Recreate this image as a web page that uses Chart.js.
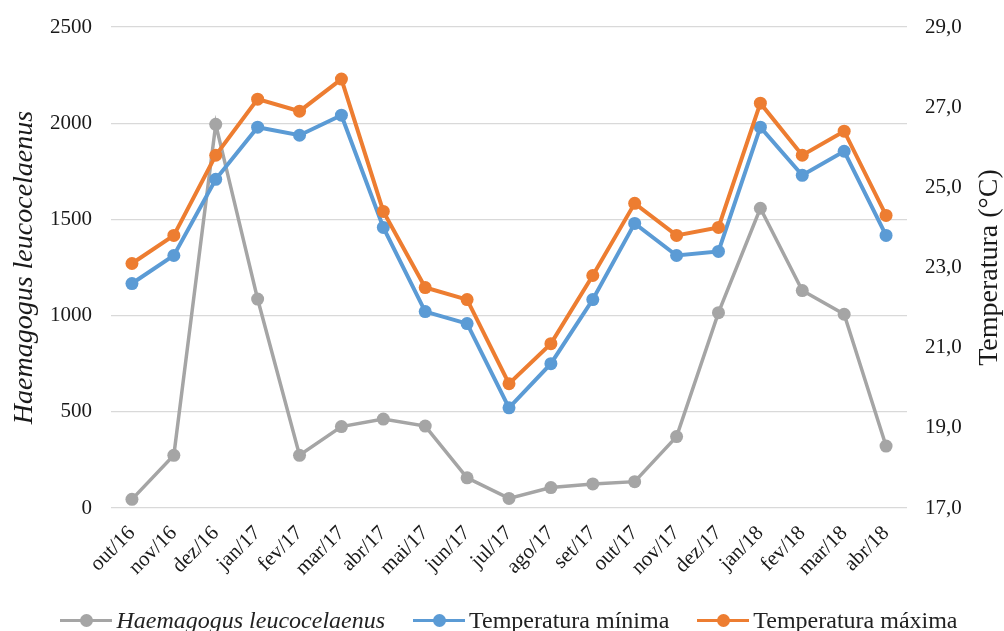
<!DOCTYPE html>
<html>
<head>
<meta charset="utf-8">
<script src="https://cdn.jsdelivr.net/npm/chart.js@4.4.1/dist/chart.umd.min.js"></script>
<style>
  html, body { margin: 0; padding: 0; background: #fff; }
  #wrap { position: relative; width: 1004px; height: 631px; overflow: hidden; }
  #legend {
    position: absolute; left: 0; top: 606px; width: 1004px; padding-left: 14px;
    box-sizing: border-box; display: flex; justify-content: center; align-items: center;
    font-family: 'Liberation Serif', 'Times New Roman', serif; font-size: 24px;
    color: #222; line-height: 28px; white-space: nowrap;
  }
  .item { display: flex; align-items: center; margin: 0 14px; }
  .mark { position: relative; width: 52px; height: 13px; margin-right: 4px; }
  .mark .ln { position: absolute; left: 0; right: 0; top: 5px; height: 3px; }
  .mark .dt { position: absolute; left: 19.5px; top: 0; width: 13px; height: 13px; border-radius: 50%; }
</style>
</head>
<body>
<div id="wrap">
  <canvas id="myChart" width="1004" height="631"></canvas>
  <div id="legend"></div>
</div>
<script>
// data
const months = ['out/16', 'nov/16', 'dez/16', 'jan/17', 'fev/17', 'mar/17', 'abr/17', 'mai/17', 'jun/17',
  'jul/17', 'ago/17', 'set/17', 'out/17', 'nov/17', 'dez/17', 'jan/18', 'fev/18', 'mar/18', 'abr/18'];
const haemagogus = [45, 274, 1994, 1086, 274, 423, 462, 426, 157, 50, 106, 125, 137, 371, 1015, 1558, 1130, 1007, 322];
const tempMin = [22.6, 23.3, 25.2, 26.5, 26.3, 26.8, 24.0, 21.9, 21.6, 19.5, 20.6, 22.2, 24.1, 23.3, 23.4, 26.5, 25.3, 25.9, 23.8];
const tempMax = [23.1, 23.8, 25.8, 27.2, 26.9, 27.7, 24.4, 22.5, 22.2, 20.1, 21.1, 22.8, 24.6, 23.8, 24.0, 27.1, 25.8, 26.4, 24.3];
const countTicks = [0, 500, 1000, 1500, 2000, 2500];
const tempTicks = [17, 19, 21, 23, 25, 27, 29];

const FONT = "'Liberation Serif', 'Times New Roman', serif";
const TEXT = '#1a1a1a';

const rightTitle = {
  id: 'rightTitle',
  afterDraw(chart, args, opts) {
    const s = chart.scales.y1
    const ca = chart.chartArea
    const ctx = chart.ctx
    ctx.save()
    ctx.translate(s.right - 14, (ca.top + ca.bottom) / 2)
    ctx.rotate(-Math.PI / 2)
    ctx.font = '28px ' + FONT
    ctx.fillStyle = TEXT
    ctx.textAlign = 'center'
    ctx.textBaseline = 'middle'
    ctx.fillText(opts.text, 0, 0)
    ctx.restore()
  }
}

function line(label, data, color, axis, order, width) {
  return {
    label: label,
    data: data,
    yAxisID: axis,
    order: order,
    borderColor: color,
    backgroundColor: color,
    borderWidth: width,
    pointRadius: 6.5,
    pointBorderWidth: 0,
    pointBackgroundColor: color,
    tension: 0
  }
}

// the tick padding would otherwise be added above and below the plot too
function fixWidth(w) {
  return function (scale) {
    scale.width = w
    scale.paddingTop = 12
    scale.paddingBottom = 12
  }
}

const chart = new Chart(document.getElementById('myChart'), {
  type: 'line',
  data: {
    labels: months,
    datasets: [
      line('Haemagogus leucocelaenus', haemagogus, '#A5A5A5', 'y', 3, 3.5),
      line('Temperatura mínima', tempMin, '#5B9BD5', 'y1', 2, 4),
      line('Temperatura máxima', tempMax, '#ED7D31', 'y1', 1, 4)
    ]
  },
  options: {
    responsive: false,
    animation: false,
    layout: { padding: { top: 27, left: 0, right: 0, bottom: 0 } },
    plugins: {
      legend: { display: false },
      tooltip: { enabled: false },
      rightTitle: { text: 'Temperatura (°C)' }
    },
    scales: {
      x: {
        offset: true,
        grid: { display: false },
        border: { display: false },
        ticks: {
          maxRotation: 45, minRotation: 45, autoSkip: false, padding: 5,
          color: TEXT, font: { family: FONT, size: 21 }
        },
        afterFit(scale) { scale.height = 123 }
      },
      y: {
        position: 'left',
        min: 0, max: 2500,
        afterBuildTicks(axis) { axis.ticks = countTicks.map(v => ({ value: v })) },
        grid: { color: '#D9D9D9', lineWidth: 1.3, drawTicks: false },
        border: { display: false },
        ticks: {
          padding: 19, color: TEXT, font: { family: FONT, size: 21 },
          callback: v => String(v)
        },
        title: {
          display: true, text: 'Haemagogus leucocelaenus', color: TEXT,
          font: { family: FONT, size: 28, style: 'italic' },
          padding: { top: 8, bottom: 0 }
        },
        afterFit: fixWidth(111)
      },
      y1: {
        position: 'right',
        min: 17, max: 29,
        afterBuildTicks(axis) { axis.ticks = tempTicks.map(v => ({ value: v })) },
        grid: { display: false, drawTicks: false },
        border: { display: false },
        ticks: {
          padding: 18, color: TEXT, font: { family: FONT, size: 21 },
          callback: v => v.toFixed(1).replace('.', ',')
        },
        afterFit: fixWidth(97)
      }
    }
  },
  plugins: [rightTitle]
})

// html legend, so the species name can be in italics
const legend = document.getElementById('legend')
chart.data.datasets.forEach((ds, i) => {
  const item = document.createElement('div')
  item.className = 'item'
  item.innerHTML = '<span class="mark"><span class="ln" style="background:' + ds.borderColor +
    '"></span><span class="dt" style="background:' + ds.borderColor + '"></span></span>' +
    '<span' + (i === 0 ? ' style="font-style:italic"' : '') + '>' + ds.label + '</span>'
  legend.appendChild(item)
})
</script>
</body>
</html>
